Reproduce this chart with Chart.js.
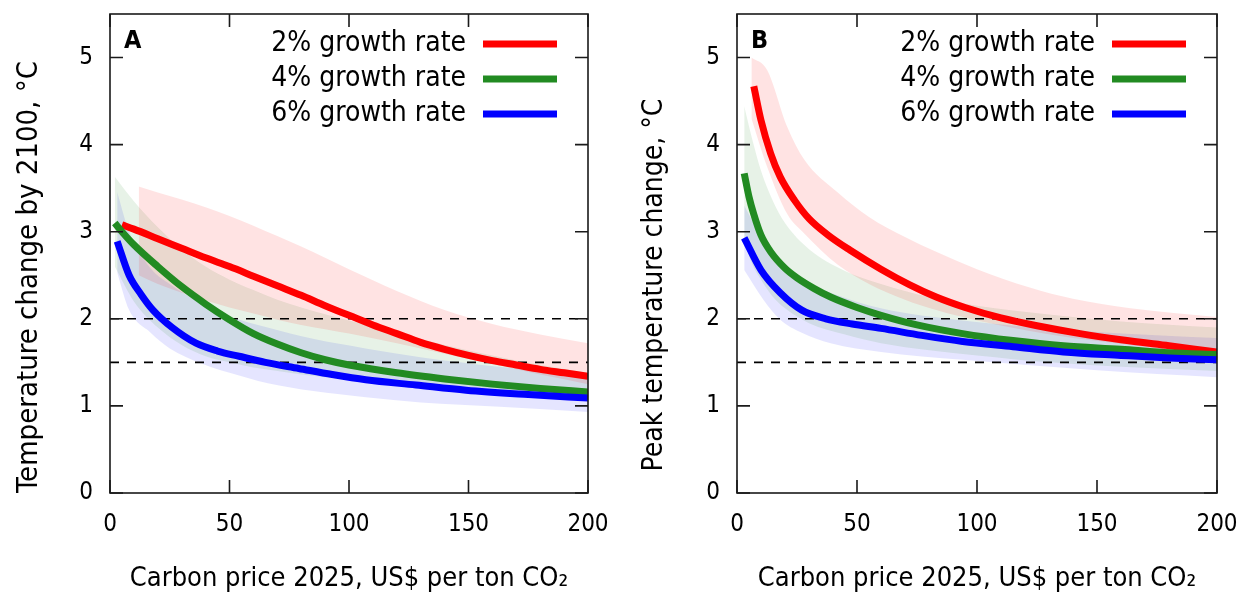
<!DOCTYPE html>
<html>
<head>
<meta charset="utf-8">
<script src="https://cdn.jsdelivr.net/npm/chart.js@4.4.1/dist/chart.umd.min.js"></script>
<style>
  body { margin: 0; background: #fff; }
  #panelA { position: absolute; left: 0; top: 0; }
  #panelB { position: absolute; left: 620px; top: 0; }
</style>
</head>
<body>
<canvas id="panelA" width="620" height="592"></canvas>
<canvas id="panelB" width="626" height="592"></canvas>
<script>
// series labels
const seriesNames = ["2% growth rate", "4% growth rate", "6% growth rate"];
const xTicks = [0, 50, 100, 150, 200];
const yTicks = [0, 1, 2, 3, 4, 5];
const targetLevels = [2, 1.5];

// panel A: temperature change by 2100
const aRedX = [5, 10, 20, 30, 40, 50, 60, 70, 80, 90, 100, 110, 120, 130, 140, 150, 160, 170, 180, 190, 200];
const aRedY = [3.08, 3.03, 2.92, 2.81, 2.7, 2.6, 2.49, 2.38, 2.27, 2.15, 2.04, 1.93, 1.83, 1.73, 1.65, 1.58, 1.52, 1.47, 1.42, 1.38, 1.34];
const aGreenX = [2, 5, 10, 20, 30, 40, 50, 60, 70, 80, 90, 100, 120, 140, 160, 180, 200];
const aGreenY = [3.1, 3.0, 2.85, 2.6, 2.37, 2.17, 1.99, 1.83, 1.71, 1.61, 1.53, 1.47, 1.38, 1.31, 1.25, 1.2, 1.16];
const aBlueX = [3, 8, 13, 18, 26, 36, 45, 54, 65, 79, 93, 107, 128, 149, 175, 200];
const aBlueY = [2.89, 2.5, 2.28, 2.1, 1.9, 1.72, 1.63, 1.57, 1.5, 1.43, 1.36, 1.3, 1.24, 1.18, 1.13, 1.09];

const aRedBandX = [12, 20, 30, 40, 50, 60, 70, 80, 90, 100, 120, 140, 160, 180, 200];
const aRedHigh = [3.52, 3.45, 3.37, 3.28, 3.18, 3.07, 2.95, 2.83, 2.7, 2.57, 2.32, 2.1, 1.94, 1.82, 1.72];
const aRedLow = [2.5, 2.4, 2.3, 2.21, 2.13, 2.06, 1.99, 1.93, 1.88, 1.83, 1.72, 1.6, 1.48, 1.36, 1.25];
const aGreenBandX = [2, 10, 20, 30, 40, 50, 60, 70, 80, 100, 120, 140, 160, 180, 200];
const aGreenHigh = [3.63, 3.35, 3.05, 2.8, 2.6, 2.45, 2.33, 2.22, 2.13, 1.98, 1.84, 1.7, 1.58, 1.47, 1.38];
const aGreenLow = [2.6, 2.2, 1.9, 1.7, 1.57, 1.5, 1.44, 1.4, 1.36, 1.3, 1.24, 1.19, 1.15, 1.11, 1.08];
const aBlueBandX = [3, 8, 17, 25, 38, 50, 66, 85, 107, 130, 163, 200];
const aBlueHigh = [3.46, 3.0, 2.58, 2.4, 2.18, 2.03, 1.9, 1.77, 1.66, 1.56, 1.45, 1.35];
const aBlueLow = [2.53, 2.1, 1.84, 1.66, 1.49, 1.38, 1.26, 1.17, 1.1, 1.04, 0.99, 0.93];

// panel B: peak temperature change
const bRedX = [7, 10, 14, 18, 24, 30, 38, 47, 60, 72, 83, 95, 110, 125, 143, 160, 180, 200];
const bRedY = [4.67, 4.28, 3.9, 3.63, 3.36, 3.15, 2.96, 2.79, 2.57, 2.39, 2.25, 2.13, 2.01, 1.92, 1.83, 1.76, 1.69, 1.62];
const bGreenX = [3, 5, 7, 10, 14, 20, 25, 32, 39, 50, 60, 75, 94, 115, 136, 160, 180, 200];
const bGreenY = [3.67, 3.4, 3.2, 2.96, 2.77, 2.58, 2.47, 2.35, 2.25, 2.13, 2.04, 1.93, 1.83, 1.75, 1.69, 1.65, 1.61, 1.59];
const bBlueX = [3, 10, 18, 27, 37, 48, 60, 77, 94, 115, 136, 160, 180, 200];
const bBlueY = [2.93, 2.56, 2.3, 2.1, 2.0, 1.94, 1.89, 1.81, 1.74, 1.68, 1.62, 1.58, 1.55, 1.53];

const bRedBandX = [6, 12.5, 21, 28, 42, 55, 70, 83, 100, 122, 140, 164, 200];
const bRedHigh = [5.0, 4.86, 4.2, 3.83, 3.45, 3.17, 2.94, 2.77, 2.57, 2.36, 2.23, 2.12, 2.02];
const bRedLow = [4.3, 3.75, 3.2, 2.98, 2.62, 2.4, 2.22, 2.1, 1.98, 1.86, 1.78, 1.7, 1.55];
const bGreenBandX = [3, 6, 10, 15, 20, 30, 45, 60, 80, 100, 130, 160, 200];
const bGreenHigh = [4.44, 4.1, 3.7, 3.35, 3.1, 2.8, 2.55, 2.4, 2.25, 2.15, 2.05, 1.97, 1.9];
const bGreenLow = [2.9, 2.65, 2.45, 2.25, 2.12, 1.95, 1.82, 1.72, 1.64, 1.58, 1.5, 1.45, 1.4];
const bBlueBandX = [3, 11, 18, 27, 39, 60, 94, 150, 200];
const bBlueHigh = [3.3, 2.9, 2.65, 2.45, 2.3, 2.12, 1.98, 1.85, 1.78];
const bBlueLow = [2.56, 2.22, 1.99, 1.84, 1.72, 1.62, 1.53, 1.41, 1.33];

const lineColors = ["#ff0000", "#228b22", "#0000ff"];
const bandColors = ["rgba(255,0,0,0.11)", "rgba(34,139,34,0.11)", "rgba(0,0,255,0.10)"];
const fontFamily = "'DejaVu Sans Condensed', 'DejaVu Sans', sans-serif";

function pts(xs, ys) {
  return xs.map((x, i) => ({ x: x, y: ys[i] }));
}

function bandSets(xs, hi, lo, color) {
  return [
    { data: pts(xs, hi), borderWidth: 0, pointRadius: 0, backgroundColor: color,
      fill: "+1", cubicInterpolationMode: "monotone", order: 10 },
    { data: pts(xs, lo), borderWidth: 0, pointRadius: 0, fill: false,
      cubicInterpolationMode: "monotone", order: 10 }
  ];
}

function lineSet(xs, ys, i) {
  return { label: seriesNames[i], data: pts(xs, ys), borderColor: lineColors[i],
    borderWidth: 7, pointRadius: 0, fill: false, cubicInterpolationMode: "monotone",
    order: 2 - i, legendLine: true };
}

function dashSet(level) {
  return { data: [{ x: 0, y: level }, { x: 200, y: level }], borderColor: "#000",
    borderWidth: 1.6, borderDash: [9, 8], pointRadius: 0, fill: false, order: 5 };
}

// frame, inside ticks, legend, panel letter and y title
const decorations = {
  id: "decorations",
  afterDatasetsDraw(chart, args, opts) {
    const ctx = chart.ctx;
    const a = chart.chartArea;
    const xs = chart.scales.x, ys = chart.scales.y;
    ctx.save();
    ctx.strokeStyle = "#1a1a1a";
    ctx.lineWidth = 1.6;
    ctx.strokeRect(a.left, a.top, a.right - a.left, a.bottom - a.top);
    ctx.beginPath();
    xTicks.forEach(v => {
      const px = xs.getPixelForValue(v);
      ctx.moveTo(px, a.bottom); ctx.lineTo(px, a.bottom - 13);
      ctx.moveTo(px, a.top); ctx.lineTo(px, a.top + 13);
    });
    yTicks.forEach(v => {
      const py = ys.getPixelForValue(v);
      ctx.moveTo(a.left, py); ctx.lineTo(a.left + 13, py);
      ctx.moveTo(a.right, py); ctx.lineTo(a.right - 13, py);
    });
    ctx.stroke();

    // legend
    ctx.font = "28px " + fontFamily;
    ctx.textAlign = "right";
    ctx.textBaseline = "middle";
    const rows = [44, 79, 114];
    chart.data.datasets.filter(d => d.legendLine).forEach((d, i) => {
      ctx.fillStyle = "#000";
      ctx.fillText(d.label, a.right - 122, rows[i]);
      ctx.strokeStyle = d.borderColor;
      ctx.lineWidth = 7;
      ctx.beginPath();
      ctx.moveTo(a.right - 105, rows[i]);
      ctx.lineTo(a.right - 31, rows[i]);
      ctx.stroke();
    });

    ctx.font = "bold 25px " + fontFamily;
    ctx.textAlign = "left";
    ctx.fillStyle = "#000";
    ctx.fillText(opts.letter, a.left + 14, a.top + 27);

    // y axis title
    ctx.font = opts.titleSize + "px " + fontFamily;
    ctx.textAlign = "center";
    ctx.translate(opts.titleX, opts.titleY);
    ctx.rotate(-Math.PI / 2);
    ctx.fillText(opts.yTitle, 0, 0);
    ctx.restore();
  }
};

function makeChart(id, letter, yTitle, titleX, titleY, titleSize, sets, leftW, rightPad) {
  return new Chart(document.getElementById(id), {
    type: "line",
    data: { datasets: sets },
    options: {
      responsive: false,
      animation: false,
      layout: { padding: { top: 14, right: rightPad, bottom: 0, left: 0 } },
      plugins: { legend: { display: false }, tooltip: { enabled: false },
        decorations: { letter: letter, yTitle: yTitle, titleX: titleX, titleY: titleY, titleSize: titleSize } },
      scales: {
        x: {
          type: "linear", min: 0, max: 200,
          afterBuildTicks: s => { s.ticks = xTicks.map(v => ({ value: v })); },
          afterFit: s => { s.height = 99; s.paddingLeft = 0; s.paddingRight = 0; },
          grid: { display: false, drawTicks: false },
          border: { display: false },
          ticks: { color: "#000", padding: 17, font: { family: fontFamily, size: 24 } },
          title: { display: true, text: "Carbon price 2025, US$ per ton CO\u2082", color: "#000",
            padding: { top: 0, bottom: -3 }, font: { family: fontFamily, size: 27 } }
        },
        y: {
          min: 0, max: 5.5,
          afterBuildTicks: s => { s.ticks = yTicks.map(v => ({ value: v })); },
          afterFit: s => { s.width = leftW; s.paddingTop = 0; s.paddingBottom = 0; },
          grid: { display: false, drawTicks: false },
          border: { display: false },
          ticks: { color: "#000", padding: 17, font: { family: fontFamily, size: 24 } },
          title: { display: false }
        }
      }
    },
    plugins: [decorations]
  });
}

const setsA = [
  lineSet(aRedX, aRedY, 0), lineSet(aGreenX, aGreenY, 1), lineSet(aBlueX, aBlueY, 2),
  dashSet(targetLevels[0]), dashSet(targetLevels[1]),
  ...bandSets(aRedBandX, aRedHigh, aRedLow, bandColors[0]),
  ...bandSets(aGreenBandX, aGreenHigh, aGreenLow, bandColors[1]),
  ...bandSets(aBlueBandX, aBlueHigh, aBlueLow, bandColors[2])
];
const setsB = [
  lineSet(bRedX, bRedY, 0), lineSet(bGreenX, bGreenY, 1), lineSet(bBlueX, bBlueY, 2),
  dashSet(targetLevels[0]), dashSet(targetLevels[1]),
  ...bandSets(bRedBandX, bRedHigh, bRedLow, bandColors[0]),
  ...bandSets(bGreenBandX, bGreenHigh, bGreenLow, bandColors[1]),
  ...bandSets(bBlueBandX, bBlueHigh, bBlueLow, bandColors[2])
];

makeChart("panelA", "A", "Temperature change by 2100, \u00b0C", 29, 277, 29, setsA, 110, 32);
makeChart("panelB", "B", "Peak temperature change, \u00b0C", 35, 285, 28, setsB, 117, 29);
</script>
</body>
</html>
